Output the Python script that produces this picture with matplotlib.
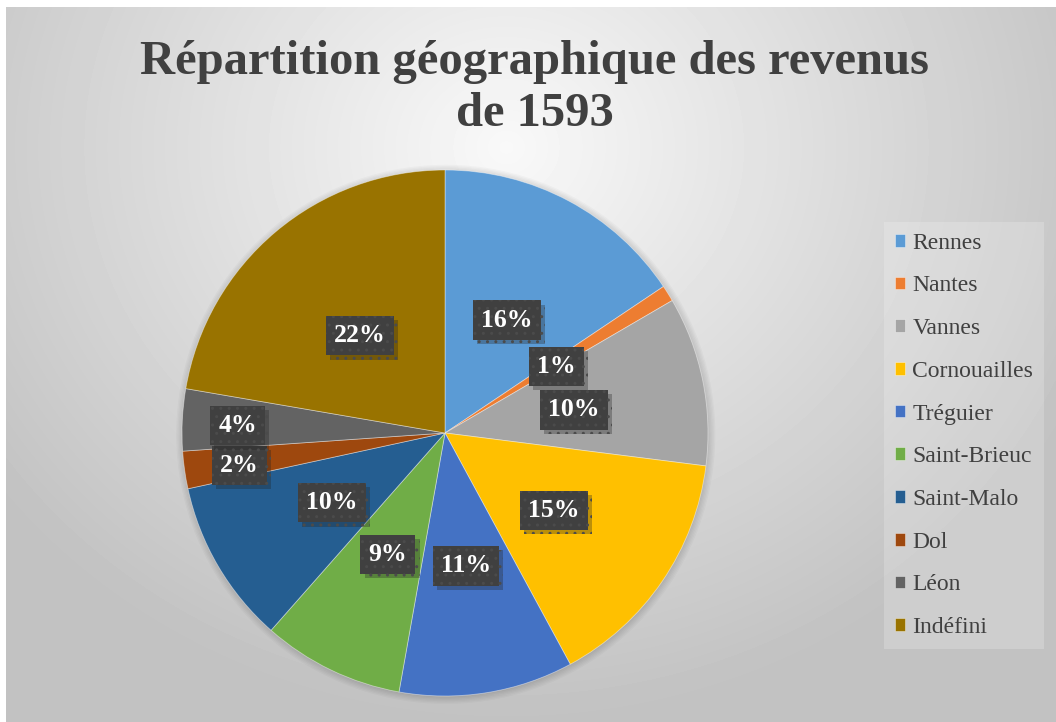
import numpy as np
import matplotlib
matplotlib.use("Agg")
from matplotlib import pyplot as plt
from matplotlib import patheffects
from matplotlib.patches import Circle

# data (share of 1593 revenues, %)
regions = ["Rennes", "Nantes", "Vannes", "Cornouailles", "Tréguier",
           "Saint-Brieuc", "Saint-Malo", "Dol", "Léon", "Indéfini"]
shares = [15.6, 1.0, 10.4, 15.1, 10.7, 8.7, 10.1, 2.3, 3.8, 22.3]
colors = ["#5B9BD5", "#ED7D31", "#A5A5A5", "#FFC000", "#4472C4",
          "#70AD47", "#255E91", "#9E480E", "#636363", "#997300"]
title = "Répartition géographique des revenus\nde 1593"

# labels pushed towards the rim (Excel "best fit")
outer_labels = {"Dol": 0.79, "Léon": 0.79}

plt.rcParams['font.family'] = ['Liberation Serif', 'DejaVu Serif']

W, H = 1056, 722
fig = plt.figure(figsize=(W / 100, H / 100), dpi=100)

# background: radial gray gradient inside the chart frame
bg = fig.add_axes([6 / W, 0, 1 - 6 / W, 1 - 7 / H])
yy, xx = np.mgrid[0:H - 7, 0:W - 6]
d = np.sqrt(((xx - 500) / 620.0) ** 2 + ((yy - 140) / 560.0) ** 2)
grad = np.clip(0.975 - 0.21 * d, 0.76, 1.0)
bg.imshow(grad, cmap='gray', vmin=0, vmax=1, aspect='auto',
          interpolation='bilinear')
bg.axis('off')
fig.patches.append(plt.Rectangle((0, 0), 1, 1, transform=fig.transFigure,
                                 facecolor='white', zorder=-10))

# pie
cx, cy, r = 445, 433, 263
ax = fig.add_axes([(cx - r * 1.05) / W, 1 - (cy + r * 1.05) / H,
                   2.1 * r / W, 2.1 * r / H])

# soft shadow around the pie
for k in range(6):
    ax.add_patch(Circle((0.003, -0.005), 1.0 + 0.005 * k, facecolor='black',
                        alpha=0.025, linewidth=0, zorder=0))

wedges, _ = ax.pie(shares, colors=colors, startangle=90, counterclock=False,
                   radius=1.0,
                   wedgeprops=dict(edgecolor=(1, 1, 1, 0.45), linewidth=0.6,
                                   zorder=2))
ax.set_xlim(-1.05, 1.05)
ax.set_ylim(-1.05, 1.05)
ax.axis('off')

total = sum(shares)
for w, v, name in zip(wedges, shares, regions):
    ang = np.deg2rad((w.theta1 + w.theta2) / 2)
    dist = outer_labels.get(name, 0.5)
    t = ax.text(dist * np.cos(ang), dist * np.sin(ang) - 0.012,
                f"{round(100 * v / total):d}%",
                ha='center', va='center', fontsize=18.5, fontweight='bold',
                color='white', zorder=5,
                bbox=dict(boxstyle='square,pad=0.32', facecolor='#404040',
                          edgecolor='#4b4b4b', linewidth=0, hatch='..'))
    t.get_bbox_patch().set_path_effects([
        patheffects.SimplePatchShadow(offset=(3, -3), alpha=0.3,
                                      shadow_rgbFace='#202020'),
        patheffects.Normal()])

fig.text(535 / W, 1 - 88 / H, title, ha='center', va='center',
         fontsize=35, fontweight='bold', color='#404040', linespacing=1.25)

leg = fig.legend(wedges, regions, loc='upper left',
                 bbox_to_anchor=(884 / W, 1 - 222 / H),
                 frameon=True, fancybox=False, fontsize=17, framealpha=0.2,
                 handlelength=0.45, handleheight=0.45, handletextpad=0.3,
                 labelspacing=0.92, borderpad=0.45, borderaxespad=0)
leg.get_frame().set_facecolor('white')
leg.get_frame().set_linewidth(0)
for txt in leg.get_texts():
    txt.set_color('#404040')

fig.savefig("out.png", dpi=100)
